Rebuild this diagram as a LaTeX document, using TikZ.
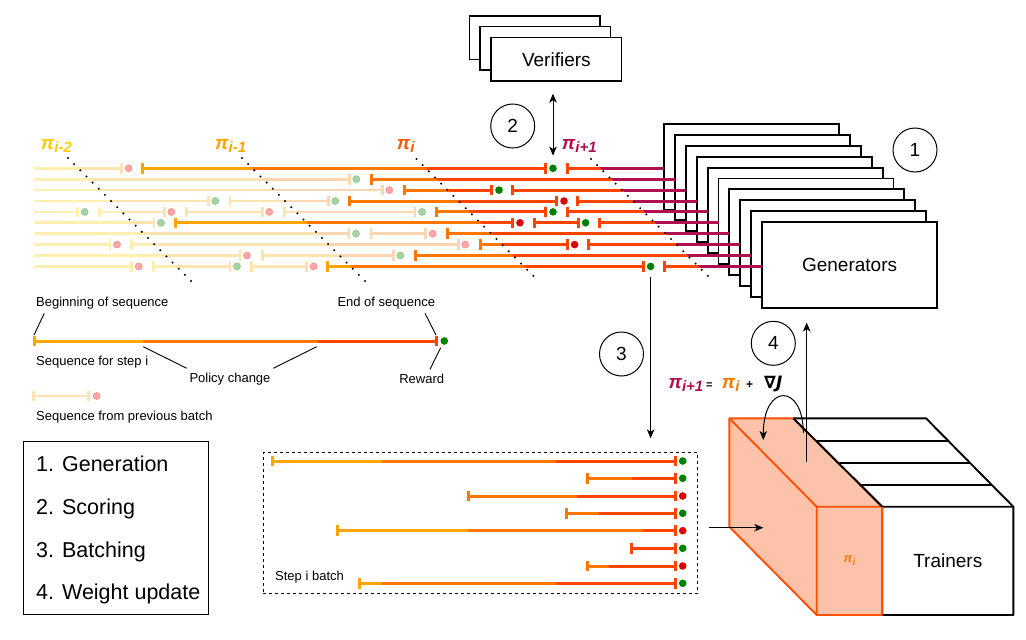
\documentclass[tikz,border=0pt]{standalone}
\usepackage{fontspec}
\setmainfont{Liberation Sans}
\newfontfamily\djv{DejaVu Sans}
\usetikzlibrary{arrows.meta,calc}
\definecolor{cgold}{HTML}{FFCC00}
\definecolor{cyel}{HTML}{FFA500}
\definecolor{corg}{HTML}{FF7700}
\definecolor{cred}{HTML}{FF4400}
\definecolor{cpur}{HTML}{B01050}
\definecolor{cpilab}{HTML}{FF5A00}
\colorlet{fgold}{cgold!30!white}
\colorlet{fyel}{cyel!30!white}
\colorlet{forg}{corg!30!white}
\definecolor{dgreen}{HTML}{008000}
\definecolor{dred}{HTML}{DD0000}
\colorlet{fgreen}{dgreen!35!white}
\colorlet{fgreend}{dgreen!45!white}
\colorlet{fpink}{red!35!white}
\colorlet{fpinkd}{red!45!white}
\definecolor{tfill}{HTML}{FDC3AA}
\definecolor{tline}{HTML}{FF5000}
% row heights and generator edges
\def\yA{168.3}\def\yB{179.2}\def\yC{190.1}\def\yD{201.0}\def\yE{211.9}
\def\yF{222.8}\def\yG{233.7}\def\yH{244.6}\def\yI{255.5}\def\yJ{266.4}
\def\xA{664}\def\xB{674.9}\def\xC{685.8}\def\xD{696.7}\def\xE{707.6}
\def\xF{718.5}\def\xG{729.4}\def\xH{740.3}\def\xI{751.2}\def\xJ{762.1}
% sequence drawing helpers
\newcommand\seqBoth[3]{\draw (#1,#3)--(#2,#3) (#1,#3-5.3)--(#1,#3+5.3) (#2,#3-5.3)--(#2,#3+5.3);}
\newcommand\seqOpen[3]{\draw (#1,#3)--(#2,#3) (#2,#3-5.3)--(#2,#3+5.3);}
\newcommand\seqGo[3]{\draw (#1,#3)--(#2,#3) (#1,#3-5.3)--(#1,#3+5.3);}
\newcommand\inregion[4]{\begin{scope}\clip ({150+(#1)},150) -- ({150+(#2)},150) -- ({300+(#2)},300) -- ({300+(#1)},300) -- cycle;\begin{scope}[color=#3]#4\end{scope}\end{scope}}
\newcommand\fadedpaths{%
\seqOpen{34}{121.7}{\yA}
\seqOpen{34}{349.3}{\yB}
\seqOpen{34}{382.3}{\yC}
\seqOpen{34}{208.3}{\yD}\seqBoth{230}{328.3}{\yD}
\seqOpen{34}{77.7}{\yE}\seqBoth{99.3}{164.3}{\yE}\seqBoth{186.7}{262.3}{\yE}\seqBoth{284.3}{415}{\yE}
\seqOpen{34}{154}{\yF}
\seqOpen{34}{349}{\yG}\seqBoth{371}{425.7}{\yG}
\seqOpen{34}{110}{\yH}\seqBoth{131.7}{458.3}{\yH}
\seqOpen{34}{240}{\yI}\seqBoth{262.3}{393.3}{\yI}
\seqOpen{34}{131.7}{\yJ}\seqBoth{153.3}{230}{\yJ}\seqBoth{251.7}{306.7}{\yJ}}
\newcommand\solidpaths{%
\seqBoth{142.7}{545.7}{\yA}\seqGo{567.3}{\xA}{\yA}
\seqGo{371}{\xB}{\yB}
\seqBoth{404}{491.7}{\yC}\seqGo{512.7}{\xC}{\yC}
\seqBoth{349.3}{556.7}{\yD}\seqGo{577.7}{\xD}{\yD}
\seqBoth{436.7}{545.7}{\yE}\seqGo{567.3}{\xE}{\yE}
\seqBoth{175}{512.7}{\yF}\seqBoth{534}{578.3}{\yF}\seqGo{599.3}{\xF}{\yF}
\seqGo{447.7}{\xG}{\yG}
\seqBoth{480}{567.3}{\yH}\seqGo{588.7}{\xH}{\yH}
\seqGo{415}{\xI}{\yI}
\seqBoth{327.7}{643.3}{\yJ}\seqGo{664.3}{\xJ}{\yJ}}
\newcommand\fdotP[2]{\filldraw[fill=fpink,draw=fpinkd,line width=0.6pt] (#1+7,#2) circle (3.5pt);}
\newcommand\fdotG[2]{\filldraw[fill=fgreen,draw=fgreend,line width=0.6pt] (#1+7,#2) circle (3.5pt);}
\newcommand\sdotG[2]{\fill[dgreen] (#1+7.3,#2) circle (3.8pt);}
\newcommand\sdotR[2]{\fill[dred] (#1+7.3,#2) circle (3.8pt);}
\newcommand\bline[4]{\draw[color=#1] (#2,#4)--(#3,#4);}
\newcommand\btick[3]{\draw[color=#1] (#2,#3-5.3)--(#2,#3+5.3);}
\newcommand\pisub[2]{π\raisebox{#1}{\fontsize{15}{16}\selectfont #2}}
\tikzset{
 genbox/.style={draw=black, fill=white, line width=1.9pt, minimum width=175pt, minimum height=85.5pt, inner sep=0pt},
 verbox/.style={draw=black, fill=white, line width=1.3pt, minimum width=130.7pt, minimum height=43.3pt, inner sep=0pt},
 stepc/.style={circle, draw=black, line width=1pt, minimum size=44pt, inner sep=0pt, font=\fontsize{19}{22}\selectfont},
 lbl/.style={inner sep=0pt, font=\fontsize{13}{15}\selectfont},
 biglbl/.style={inner sep=0pt, font=\fontsize{19}{22}\selectfont},
 leglbl/.style={anchor=west, inner sep=0pt, font=\fontsize{21.5}{24}\selectfont},
 pil/.style={anchor=base west, inner sep=0pt, font=\bfseries\itshape\fontsize{19}{20}\selectfont},
 conn/.style={line width=1pt, draw=black},
 leader/.style={line width=0.9pt, draw=black},
 dotline/.style={line width=2.3pt, dash pattern=on 0pt off 8.7pt, line cap=round, draw=black},
 reward/.style={circle, inner sep=0pt, minimum size=7.6pt},
}
\begin{document}
\begin{tikzpicture}[x=1pt,y=-1pt,>={Stealth[length=9pt,width=7.5pt,inset=2.5pt]}]
\useasboundingbox (0,0) rectangle (1026,640);
\fill[white] (0,0) rectangle (1026,640);

% ---------- Verifiers ----------
\node[verbox] (ver3) at (534.55,37.55) {};
\node[verbox] (ver2) at (545.45,48.45) {};
\node[verbox, font=\fontsize{19}{22}\selectfont] (ver) at (556.35,59.35) {Verifiers};

% ---------- Generators ----------
\foreach \k in {1,...,9}{\node[genbox] (gen\k) at ({751.5+10.9*(\k-1)},{166.75+10.9*(\k-1)}) {};}
\node[genbox, font=\fontsize{19}{22}\selectfont] (gen) at (849.6,264.85) {Generators};

% ---------- sequences ----------
\begin{scope}[line width=2.7pt]
\inregion{-500}{-90}{fgold}{\fadedpaths}
\inregion{-90}{84}{fyel}{\fadedpaths}
\inregion{84}{1000}{forg}{\fadedpaths}
\end{scope}
\begin{scope}[line width=3pt]
\inregion{-500}{-90}{cgold}{\solidpaths}
\inregion{-90}{84}{cyel}{\solidpaths}
\inregion{84}{257.5}{corg}{\solidpaths}
\inregion{257.5}{432}{cred}{\solidpaths}
\inregion{432}{1000}{cpur}{\solidpaths}
\end{scope}

% faded rewards
\fdotP{121.7}{\yA}
\fdotG{349.3}{\yB}
\fdotP{382.3}{\yC}
\fdotG{208.3}{\yD}\fdotG{328.3}{\yD}
\fdotG{77.7}{\yE}\fdotP{164.3}{\yE}\fdotP{262.3}{\yE}\fdotG{415}{\yE}
\fdotG{154}{\yF}
\fdotG{349}{\yG}\fdotP{425.7}{\yG}
\fdotP{110}{\yH}\fdotP{458.3}{\yH}
\fdotP{240}{\yI}\fdotG{393.3}{\yI}
\fdotP{131.7}{\yJ}\fdotG{230}{\yJ}\fdotP{306.7}{\yJ}
% current rewards
\node[reward, fill=dgreen] (r1) at (553,\yA) {};
\sdotG{491.7}{\yC}
\sdotR{556.7}{\yD}
\sdotG{545.7}{\yE}
\sdotR{512.7}{\yF}\sdotG{578.3}{\yF}
\sdotR{567.3}{\yH}
\node[reward, fill=dgreen] (r10) at (650.6,\yJ) {};

% policy boundaries
\draw[dotline] (68,158) -- (197,287);
\draw[dotline] (242,158) -- (371,287);
\draw[dotline] (416.5,159) -- (533.5,276);
\draw[dotline] (591,159) -- (708,276);

% policy labels
\node[pil, text=cgold] (pA) at (40.7,149) {\pisub{-3.5pt}{i-2}};
\node[pil, text=cyel] (pB) at (215,149) {\pisub{-3.5pt}{i-1}};
\node[pil, text=cpilab] (pC) at (396.7,149) {\pisub{-3.5pt}{i}};
\node[pil, text=cpur] (pD) at (561.7,149) {\pisub{-3.5pt}{i+1}};

% step circles
\node[stepc] (c1) at (915,150) {1};
\node[stepc] (c2) at (512.7,126) {2};
\node[stepc] (c3) at (621.5,354) {3};
\node[stepc] (c4) at (773.3,343.3) {4};

% ---------- legend of sequences ----------
\begin{scope}[line width=3pt]
\draw[cyel] (34,341) -- (143.3,341);
\draw[corg] (143.3,341) -- (317.7,341);
\draw[cred] (317.7,341) -- (436.7,341);
\draw[cyel] (34,335.7) -- (34,346.3);
\draw[cred] (436.7,335.7) -- (436.7,346.3);
\end{scope}
\node[reward, fill=dgreen] (rw) at (444.3,341) {};
\begin{scope}[line width=2.7pt, color=fyel]
\draw (33.3,396) -- (88.3,396) (33.3,390.7) -- (33.3,401.3) (88.3,390.7) -- (88.3,401.3);
\end{scope}
\filldraw[fill=fpink,draw=fpinkd,line width=0.6pt] (96.7,396) circle (3.5pt);

\node[lbl, anchor=west] (tBeg) at (36,302.7) {Beginning of sequence};
\node[lbl, anchor=west] (tEnd) at (337.3,302.7) {End of sequence};
\node[lbl, anchor=west] (tSeq) at (36,361.7) {Sequence for step i};
\node[lbl] (tPol) at (230,379.3) {Policy change};
\node[lbl] (tRew) at (421.7,379.3) {Reward};
\node[lbl, anchor=west] (tPrev) at (36,417.3) {Sequence from previous batch};

\coordinate (l1a) at (44.3,313.3); \coordinate (l1b) at (34,335);
\coordinate (l2a) at (425,313.3); \coordinate (l2b) at (436,335);
\coordinate (l3a) at (143.3,346.7); \coordinate (l3b) at (186.7,368.3);
\coordinate (l4a) at (273.3,368.3); \coordinate (l4b) at (316.7,346.7);
\coordinate (l5a) at (430,369.3); \coordinate (l5b) at (440.7,347.7);
\draw[leader] (l1a) -- (l1b);
\draw[leader] (l2a) -- (l2b);
\draw[leader] (l3a) -- (l3b);
\draw[leader] (l4a) -- (l4b);
\draw[leader] (l5a) -- (l5b);

% ---------- legend box ----------
\node[draw=black, line width=1pt, minimum width=185pt, minimum height=173.6pt, anchor=north west, inner sep=0pt] (legend) at (23.3,440.7) {};
\node[leglbl] (s1) at (36,464.3) {1. Generation};
\node[leglbl] (s2) at (36,509) {2. Scoring};
\node[leglbl] (s3) at (36,551.7) {3. Batching};
\node[leglbl] (s4) at (36,594.3) {4. Weight update};

% ---------- batch ----------
\node[draw=black, dash pattern=on 3pt off 3pt, line width=1pt, minimum width=434.6pt, minimum height=140.4pt, anchor=north west, inner sep=0pt] (batch) at (262.7,452.3) {};
\begin{scope}[line width=3pt]
\bline{cyel}{272}{381.7}{461}\bline{corg}{381.7}{556}{461}\bline{cred}{556}{675}{461}\btick{cyel}{272}{461}
\bline{corg}{587.7}{631.7}{478.3}\bline{cred}{631.7}{675}{478.3}\btick{corg}{587.7}{478.3}
\bline{corg}{468.3}{577.3}{496}\bline{cred}{577.3}{675}{496}\btick{corg}{468.3}{496}
\bline{corg}{566}{599}{513.3}\bline{cred}{599}{675}{513.3}\btick{corg}{566}{513.3}
\bline{cyel}{337.3}{468.3}{530.7}\bline{corg}{468.3}{642.7}{530.7}\bline{cred}{642.7}{675}{530.7}\btick{cyel}{337.3}{530.7}
\bline{cred}{631}{675}{548.3}\btick{cred}{631}{548.3}
\bline{corg}{587.7}{609.3}{566}\bline{cred}{609.3}{675}{566}\btick{corg}{587.7}{566}
\bline{cyel}{359.3}{381.7}{583.3}\bline{corg}{381.7}{556}{583.3}\bline{cred}{556}{675}{583.3}\btick{cyel}{359.3}{583.3}
\foreach \yy in {461,478.3,496,513.3,530.7,548.3,566,583.3}{\btick{cred}{675}{\yy}}
\end{scope}
\fill[dgreen] (682.7,461) circle (3.8pt);
\fill[dgreen] (682.7,478.3) circle (3.8pt);
\fill[dred] (682.7,496) circle (3.8pt);
\fill[dgreen] (682.7,513.3) circle (3.8pt);
\fill[dred] (682.7,530.7) circle (3.8pt);
\fill[dgreen] (682.7,548.3) circle (3.8pt);
\fill[dred] (682.7,566) circle (3.8pt);
\fill[dgreen] (682.7,583.3) circle (3.8pt);
\node[lbl, anchor=west] (tStep) at (275,576.7) {Step i batch};

% ---------- trainers ----------
\filldraw[fill=tfill, draw=tline, line width=1.9pt, line join=round]
  (729.3,418.3) -- (793.3,418.3) -- (882.3,506.7) -- (882.3,615) -- (816.7,615) -- (729.3,526.7) -- cycle;
\draw[tline, line width=1.9pt, line join=round] (729.3,418.3) -- (816.7,506.7) -- (882.3,506.7) (816.7,506.7) -- (816.7,615);
\draw[black, line width=1.9pt, line join=round] (793.3,418.3) -- (926,418.3) -- (1013.3,506.7) -- (1013.3,615) -- (882.3,615);
\draw[black, line width=1.9pt] (793.3,418.3) -- (882.3,506.7) -- (1013.3,506.7);
\draw[black, line width=1.9pt] (815.3,440.7) -- (948,440.7) (837.3,462.7) -- (970,462.7) (859.3,485) -- (992,485);
\draw[tline, line width=1.9pt] (882.3,506.7) -- (882.3,615);
\node[biglbl] (trainers) at (947.8,560.8) {Trainers};
\node[inner sep=0pt, text=corg, font=\bfseries\itshape\fontsize{12.5}{14}\selectfont] (pitr) at (849.5,560.8) {π\raisebox{-2.5pt}{\fontsize{10}{11}\selectfont i}};

% update formula
\node[pil, text=cpur] (fa) at (668.3,388.3) {\pisub{-3.5pt}{i+1}};
\node[anchor=base west, inner sep=0pt, font=\bfseries\fontsize{11}{12}\selectfont] (fb) at (706,388.3) {=};
\node[pil, text=corg] (fc) at (721.7,388.3) {\pisub{-3.5pt}{i}};
\node[anchor=base west, inner sep=0pt, font=\bfseries\fontsize{12}{12}\selectfont] (fd) at (746,388.3) {+};
\node[anchor=base west, inner sep=0pt, font=\djv\bfseries\itshape\fontsize{17}{20}\selectfont] (fe) at (764,388.3) {∇J};

% ---------- connectors ----------
\draw[conn, <->] ($(ver.south -| r1)+(0,12)$) -- ($(r1.north)+(0,-8.7)$);
\draw[conn, ->] ($(r10.south)+(0,6.5)$) -- ($(batch.north -| r10)+(0,-14)$);
\coordinate (a4) at (806.7,462);
\draw[conn, ->] (a4) -- ($(gen.south -| a4)+(0,14)$);
\coordinate (cubeIn) at (763.3,527.7);
\draw[conn, ->] ($(batch.east |- cubeIn)+(11,0)$) -- (cubeIn);
\coordinate (cvS) at (803.3,433);
\coordinate (cvE) at (763.3,440);
\draw[conn, ->] (cvS) .. controls (803.3,383) and (763.3,383) .. (cvE);
\end{tikzpicture}
\end{document}
